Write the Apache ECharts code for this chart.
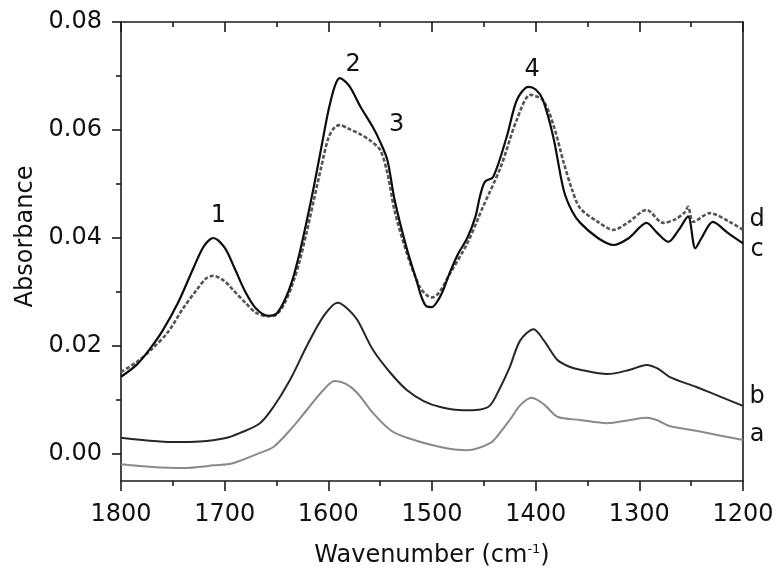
<!DOCTYPE html>
<html>
<head>
<meta charset="utf-8">
<script src="https://cdn.jsdelivr.net/npm/echarts@6/dist/echarts.min.js"></script>
<style>html,body{margin:0;padding:0;background:#fff}#chart{width:778px;height:575px}</style>
</head>
<body>
<div id="chart"></div>
<script>
// ---- data (wavenumber in cm^-1, absorbance) ----
const cWave = [1800,1785,1772,1760,1745,1730,1720,1711,1700,1690,1680,1670,1658,1650,1642,1635,1628,1621,1614,1607,1600,1594,1589,1580,1569,1557,1550,1543,1536,1524,1515,1510,1505,1500,1495,1490,1483,1475,1466,1458,1454,1449,1441,1428,1418,1407,1400,1393,1383,1373,1365,1357,1340,1325,1310,1293,1283,1272,1262,1253,1246,1240,1229,1215,1200];
const cAbs  = [0.0143,0.0165,0.0195,0.0228,0.0280,0.0345,0.0385,0.0400,0.0382,0.0342,0.0300,0.0270,0.0256,0.0260,0.0285,0.0320,0.0370,0.0430,0.0495,0.0565,0.0635,0.0680,0.0696,0.0682,0.0643,0.0605,0.0578,0.0544,0.0470,0.0378,0.0322,0.0290,0.0273,0.0272,0.0282,0.0300,0.0335,0.0370,0.0400,0.0440,0.0475,0.0504,0.0513,0.0587,0.0656,0.0680,0.0675,0.0656,0.0587,0.0489,0.0450,0.0428,0.0400,0.0387,0.0400,0.0428,0.0410,0.0393,0.0415,0.0440,0.0381,0.0400,0.0430,0.0410,0.0390];

const dWave = [1800,1785,1770,1755,1740,1727,1718,1711,1700,1692,1680,1670,1658,1650,1642,1635,1628,1621,1614,1607,1600,1594,1589,1580,1569,1560,1550,1543,1536,1524,1512,1505,1500,1495,1490,1483,1466,1451,1434,1418,1405,1393,1383,1373,1365,1357,1340,1325,1310,1293,1277,1265,1256,1253,1248,1232,1213,1200];
const dAbs  = [0.0152,0.0170,0.0195,0.0225,0.0270,0.0304,0.0325,0.0330,0.0320,0.0304,0.0280,0.0262,0.0255,0.0258,0.0280,0.0312,0.0355,0.0410,0.0470,0.0530,0.0585,0.0605,0.0609,0.0602,0.0592,0.0581,0.0563,0.0520,0.0450,0.0370,0.0310,0.0294,0.0290,0.0295,0.0308,0.0333,0.0390,0.0457,0.0530,0.0620,0.0665,0.0655,0.0610,0.0540,0.0490,0.0455,0.0430,0.0415,0.0430,0.0452,0.0428,0.0435,0.0448,0.0458,0.0430,0.0446,0.0430,0.0415];

const bWave = [1800,1775,1750,1724,1700,1685,1666,1653,1637,1621,1605,1591,1582,1572,1557,1540,1524,1508,1492,1470,1455,1444,1435,1425,1415,1402,1392,1379,1368,1357,1331,1309,1293,1282,1271,1245,1219,1200];
const bAbs  = [0.0030,0.0025,0.0022,0.0023,0.0029,0.0039,0.0057,0.0087,0.0137,0.0199,0.0254,0.0280,0.0270,0.0248,0.0193,0.0150,0.0118,0.0098,0.0087,0.0081,0.0082,0.0090,0.0120,0.0161,0.0210,0.0231,0.0210,0.0174,0.0162,0.0156,0.0148,0.0156,0.0165,0.0158,0.0143,0.0124,0.0104,0.0089];

const aWave = [1800,1770,1740,1710,1692,1666,1653,1637,1621,1605,1594,1583,1572,1557,1540,1524,1492,1466,1444,1435,1425,1415,1404,1392,1379,1357,1331,1309,1293,1282,1271,1245,1219,1200];
const aAbs  = [-0.0019,-0.0024,-0.0026,-0.0021,-0.0017,0.0002,0.0013,0.0044,0.0081,0.0118,0.0135,0.0130,0.0113,0.0076,0.0044,0.0030,0.0013,0.0007,0.0020,0.0038,0.0063,0.0090,0.0104,0.0092,0.0069,0.0063,0.0057,0.0063,0.0067,0.0062,0.0052,0.0043,0.0033,0.0026];

// axis ticks
const xMin = 1200, xMax = 1800, xStep = 100;
const yMin = -0.005, yMax = 0.08;
const yTicks = [0.00, 0.02, 0.04, 0.06, 0.08];
const yMinorTicks = [0.01, 0.03, 0.05, 0.07];

// annotations: [text, wavenumber, absorbance]
const notes = [['1',1706,0.0441],['2',1576,0.0720],['3',1534,0.0609],['4',1403.5,0.0711],
               ['d',1186.5,0.0433],['c',1186.5,0.0378],['b',1186.5,0.0106],['a',1186.5,0.0035]];

const pairs = (w, v) => w.map((x, i) => [x, v[i]]);
const FONT = 'DejaVu Sans';
const AX = '#1a1a1a';

const chart = echarts.init(document.getElementById('chart'), null, {renderer: 'canvas'});

const lineSeries = (name, w, v, color, width, type) => ({
  name, type: 'line', data: pairs(w, v), xAxisIndex: 0, yAxisIndex: 0,
  showSymbol: false, symbol: 'none', smooth: 0.3, animation: false,
  lineStyle: {color, width, type}, z: 3
});

const option = {
  backgroundColor: '#fff',
  animation: false,
  textStyle: {fontFamily: FONT},
  grid: {left: 121, right: 35, top: 22, bottom: 94, containLabel: false, outerBoundsMode: 'none'},
  xAxis: [
    {
      type: 'value', position: 'bottom', min: xMin, max: xMax, interval: xStep, inverse: true,
      axisLine: {show: true, onZero: false, lineStyle: {color: AX, width: 1.6}},
      axisTick: {show: true, inside: false, length: 10, lineStyle: {color: AX, width: 1.6}},
      minorTick: {show: true, splitNumber: 2, length: 5, lineStyle: {color: AX, width: 1.6}},
      axisLabel: {show: true, margin: 22, fontSize: 24, color: '#111', fontFamily: FONT,
                  formatter: v => String(v)},
      splitLine: {show: false}, minorSplitLine: {show: false},
      name: '{t|Wavenumber (cm}{s|-1}{t|)}', nameLocation: 'middle', nameGap: 62,
      nameTextStyle: {rich: {
        t: {fontSize: 24, fontFamily: FONT, color: '#111'},
        s: {fontSize: 13, fontFamily: FONT, color: '#111', verticalAlign: 'top', padding: [0, 0, 12, 0]}
      }}
    },
    {
      type: 'value', position: 'top', min: xMin, max: xMax, interval: xStep, inverse: true,
      axisLine: {show: true, onZero: false, lineStyle: {color: AX, width: 1.6}},
      axisTick: {show: true, inside: true, length: 10, lineStyle: {color: AX, width: 1.6}},
      minorTick: {show: true, splitNumber: 2, length: 5, lineStyle: {color: AX, width: 1.6}},
      axisLabel: {show: false}, splitLine: {show: false}
    }
  ],
  yAxis: [
    {
      type: 'value', position: 'left', min: yMin, max: yMax,
      axisLine: {show: true, onZero: false, lineStyle: {color: AX, width: 1.6}},
      axisTick: {show: true, inside: false, length: 9, customValues: yTicks, lineStyle: {color: AX, width: 1.6}},
      axisLabel: {show: true, margin: 19, fontSize: 24, color: '#111', fontFamily: FONT,
                  customValues: yTicks, formatter: v => v.toFixed(2)},
      splitLine: {show: false},
      name: 'Absorbance', nameLocation: 'middle', nameGap: 76, nameRotate: 90,
      nameTextStyle: {fontSize: 24, fontFamily: FONT, color: '#111', padding: [0, 0, 0, 30]}
    },
    {
      type: 'value', position: 'left', min: yMin, max: yMax,
      axisLine: {show: false},
      axisTick: {show: true, inside: false, length: 5, customValues: yMinorTicks, lineStyle: {color: AX, width: 1.6}},
      axisLabel: {show: false, customValues: yMinorTicks}, splitLine: {show: false}
    },
    {
      type: 'value', position: 'right', min: yMin, max: yMax,
      axisLine: {show: true, onZero: false, lineStyle: {color: AX, width: 1.6}},
      axisTick: {show: false}, axisLabel: {show: false}, splitLine: {show: false}
    }
  ],
  series: [
    lineSeries('a', aWave, aAbs, '#8a8a8a', 2, 'solid'),
    lineSeries('b', bWave, bAbs, '#262626', 2, 'solid'),
    lineSeries('d', dWave, dAbs, '#555555', 2.6, [4, 2]),
    lineSeries('c', cWave, cAbs, '#0d0d0d', 2.2, 'solid')
  ]
};

chart.setOption(option);

const graphics = notes.map(([t, x, y]) => {
  const p = chart.convertToPixel({xAxisIndex: 0, yAxisIndex: 0}, [x, y]);
  return {
    type: 'text', x: p[0], y: p[1], z: 10, silent: true,
    style: {text: t, fontSize: 24, fontFamily: FONT, fill: '#111', align: 'center', verticalAlign: 'middle'}
  };
});
chart.setOption({graphic: graphics});
</script>
</body>
</html>
